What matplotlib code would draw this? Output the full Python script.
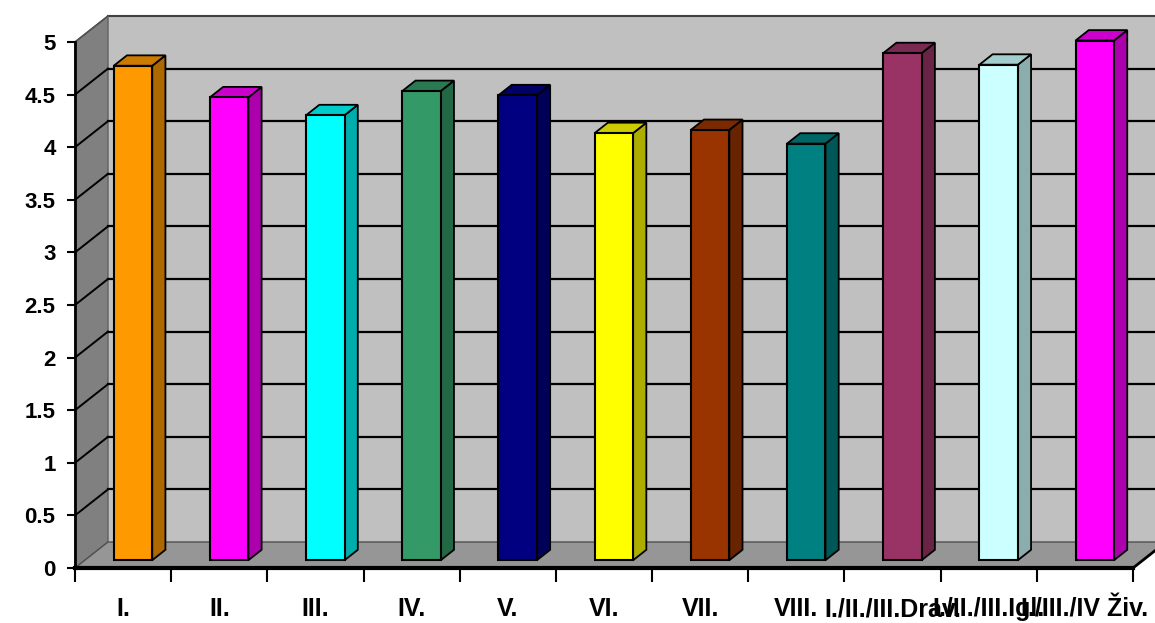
import numpy as np
import matplotlib.pyplot as plt
from matplotlib.patches import Polygon

# bar chart with Excel style 3D look

labels = ["I.", "II.", "III.", "IV.", "V.", "VI.", "VII.", "VIII.",
          "I./II./III.Drav.", "I./II./III.Igl.", "I./III./IV Živ."]
values = [4.70, 4.40, 4.23, 4.46, 4.42, 4.06, 4.09, 3.96, 4.82, 4.71, 4.94]
colors = ["#ff9900", "#ff00ff", "#00ffff", "#339966", "#000080", "#ffff00",
          "#993300", "#008080", "#993366", "#ccffff", "#ff00ff"]
yticks = np.arange(0, 5.01, 0.5)

n = len(values)
DX = 33 / 96.2     # depth shift in category units
DY = 26 / 105.2    # depth shift in value units
f0, f1 = 0.3, 0.7  # bar front / back depth fraction
bw = 0.4


def shade(c, k):
    r, g, b = plt.matplotlib.colors.to_rgb(c)
    return (r * k, g * k, b * k)


fig = plt.figure(figsize=(11.55, 6.23), dpi=100)
ax = fig.add_axes([75 / 1155, 55 / 623, 1058 / 1155, 526 / 623])
ax.set_xlim(0, n)
ax.set_ylim(0, 5)

# walls and floor
ax.add_patch(Polygon([(DX, DY), (n + 2, DY), (n + 2, 5 + DY), (DX, 5 + DY)],
                     closed=True, fc="#c0c0c0", ec="none", zorder=0, clip_on=False))
ax.add_patch(Polygon([(0, 0), (0, 5), (DX, 5 + DY), (DX, DY)],
                     closed=True, fc="#808080", ec="#606060", lw=1, zorder=1, clip_on=False))
ax.add_patch(Polygon([(0, 0), (n, 0), (n + DX, DY), (DX, DY)],
                     closed=True, fc="#969696", ec="#505050", lw=1, zorder=2, clip_on=False))
ax.plot([DX, n + 2], [5 + DY, 5 + DY], color="#404040", lw=1.5, zorder=1, clip_on=False)

# gridlines on the back and left walls
for v in yticks[1:-1]:
    ax.plot([DX, n + 2], [v + DY, v + DY], color="black", lw=1.6, zorder=1, clip_on=False)
    ax.plot([0, DX], [v, v + DY], color="black", lw=1.4, zorder=1, clip_on=False)
ax.plot([0, DX], [5, 5 + DY], color="#505050", lw=1.2, zorder=1, clip_on=False)

# bars
x = np.arange(n) + 0.5
xf = x + f0 * DX
bars = ax.bar(xf, values, width=bw, bottom=f0 * DY, color=colors,
              edgecolor="black", linewidth=1.5, zorder=5)
for p in bars:
    p.set_clip_on(False)
ddx = (f1 - f0) * DX
ddy = (f1 - f0) * DY
for xi, v, c in zip(xf, values, colors):
    l, r = xi - bw / 2, xi + bw / 2
    b, t = f0 * DY, f0 * DY + v
    ax.add_patch(Polygon([(r, b), (r + ddx, b + ddy), (r + ddx, t + ddy), (r, t)],
                         closed=True, fc=shade(c, 0.68), ec="black", lw=1.3,
                         zorder=4, clip_on=False))
    ax.add_patch(Polygon([(l, t), (r, t), (r + ddx, t + ddy), (l + ddx, t + ddy)],
                         closed=True, fc=shade(c, 0.8), ec="black", lw=1.3,
                         zorder=4, clip_on=False))

# right edge of the floor
ax.plot([n, n + DX], [0, DY], color="black", lw=2, zorder=3, clip_on=False)

# axes
for s in ["top", "right"]:
    ax.spines[s].set_visible(False)
ax.spines["left"].set_linewidth(2)
ax.spines["bottom"].set_linewidth(3)
ax.spines["left"].set_zorder(6)
ax.spines["bottom"].set_zorder(6)
ax.set_facecolor("none")

ax.set_yticks(yticks)
ax.set_yticklabels([f"{v:g}" for v in yticks])
ax.tick_params(axis="y", direction="out", length=6, width=1.5, pad=8)
ax.set_xticks(np.arange(n + 1))
ax.set_xticklabels([])
ax.tick_params(axis="x", which="major", direction="out", length=10, width=1.5)
ax.set_xticks(x, minor=True)
ax.set_xticklabels(labels, minor=True)
ax.tick_params(axis="x", which="minor", length=0, pad=21)

for lab in ax.get_yticklabels():
    lab.set_fontfamily("Liberation Sans")
    lab.set_fontweight("bold")
    lab.set_fontsize(16)
for lab in ax.get_xticklabels(minor=True):
    lab.set_fontfamily("Liberation Sans")
    lab.set_fontweight("bold")
    lab.set_fontsize(18)

plt.savefig("out.png", dpi=100)
